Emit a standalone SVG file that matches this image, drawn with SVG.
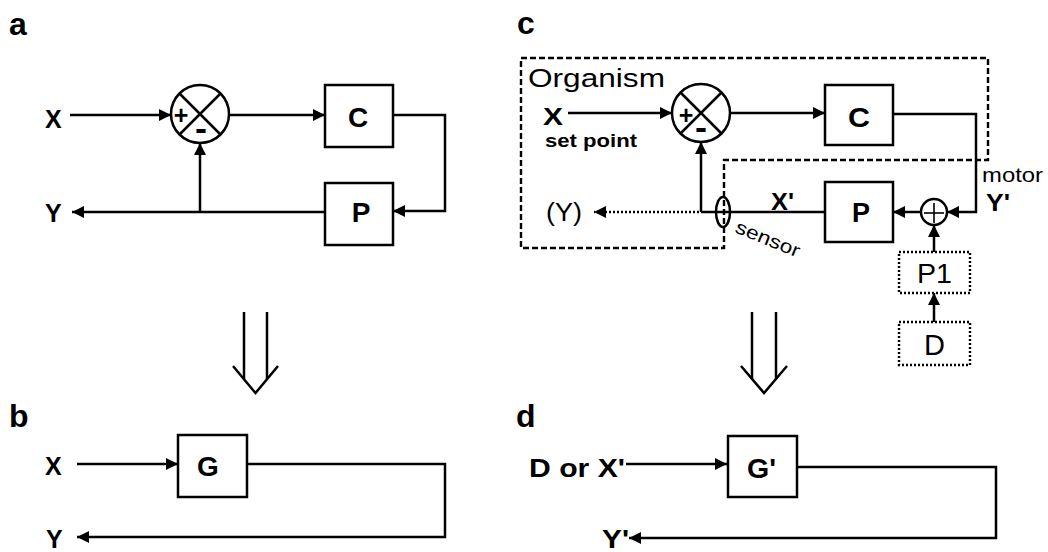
<svg xmlns="http://www.w3.org/2000/svg" width="1048" height="552" viewBox="0 0 1048 552">
<defs>
<marker id="ah" markerUnits="userSpaceOnUse" markerWidth="12" markerHeight="12" refX="12" refY="6" orient="auto">
<path d="M0,0 L12,6 L0,12 z" fill="#000"/>
</marker>
</defs>
<style>
text{font-family:"Liberation Sans",Arial,Helvetica,sans-serif;fill:#000}
.b{font-weight:bold}
.lbl{font-weight:bold;font-size:32px}
.box{fill:#fff;stroke:#000;stroke-width:2.5}
.dbox{fill:#fff;stroke:#000;stroke-width:2.4;stroke-dasharray:2,2}
.ln{fill:none;stroke:#000;stroke-width:2.5}
.arr{fill:none;stroke:#000;stroke-width:2.5;marker-end:url(#ah)}
.dot{fill:none;stroke:#000;stroke-width:2.5;stroke-dasharray:2,2;marker-end:url(#ah)}
.dash{fill:none;stroke:#000;stroke-width:2.4;stroke-dasharray:6,3}
.sum{fill:#fff;stroke:#000;stroke-width:2.5}
.thin{fill:none;stroke:#000;stroke-width:1.6}
</style>
<rect width="1048" height="552" fill="#fff"/>

<!-- panel labels -->
<text class="lbl" x="9" y="35">a</text>
<text class="lbl" x="517" y="34">c</text>
<text class="lbl" x="9" y="427">b</text>
<text class="lbl" x="516" y="427">d</text>

<!-- organism boundary -->
<path id="organism-boundary" class="dash" d="M521,58 H988 V160 H724 V248 H521 Z"/>

<g id="connectors">
<!-- panel a -->
<line class="arr" x1="70" y1="115" x2="171" y2="115"/>
<line class="arr" x1="230" y1="115" x2="325" y2="115"/>
<polyline class="arr" points="393,115 445,115 445,211 393,211"/>
<line class="arr" x1="325" y1="212" x2="72" y2="212"/>
<line class="arr" x1="200" y1="212" x2="200" y2="143"/>
<!-- panel c -->
<line class="arr" x1="568" y1="113" x2="672" y2="113"/>
<line class="arr" x1="730" y1="113" x2="825" y2="113"/>
<polyline class="arr" points="893,114 976,114 976,212 947,212"/>
<line class="arr" x1="921" y1="212" x2="893" y2="212"/>
<line class="ln" x1="825" y1="212" x2="701" y2="212"/>
<line class="arr" x1="701" y1="212" x2="701" y2="142"/>
<line class="dot" x1="699" y1="212" x2="594" y2="212"/>
<line class="arr" x1="934" y1="252" x2="934" y2="225"/>
<line class="arr" x1="934" y1="322" x2="934" y2="293"/>
<!-- panel b -->
<line class="arr" x1="77" y1="464" x2="178" y2="464"/>
<polyline class="arr" points="247,464 445,464 445,537 77,537"/>
<!-- panel d -->
<line class="arr" x1="626" y1="464" x2="727" y2="464"/>
<polyline class="arr" points="797,467 996,467 996,538 629,538"/>
</g>

<!-- transformation arrows -->
<g id="implies-left">
<line class="ln" x1="244" y1="312" x2="244" y2="379"/>
<line class="ln" x1="267" y1="312" x2="267" y2="379"/>
<polyline class="ln" points="233,366 255.5,393 278,366"/>
</g>
<g id="implies-right">
<line class="ln" x1="752" y1="312" x2="752" y2="379"/>
<line class="ln" x1="776" y1="312" x2="776" y2="379"/>
<polyline class="ln" points="741,366 764,393 787,366"/>
</g>

<!-- panel a nodes -->
<g id="a-X"><text class="b" x="45" y="128" font-size="25">X</text></g>
<g id="a-Y"><text class="b" x="45" y="222" font-size="25">Y</text></g>
<g id="a-sum">
<circle class="sum" cx="200" cy="114" r="29"/>
<line class="ln" x1="179.5" y1="93.5" x2="220.5" y2="134.5"/>
<line class="ln" x1="220.5" y1="93.5" x2="179.5" y2="134.5"/>
<text class="b" x="181" y="124" font-size="25" text-anchor="middle">+</text>
<text class="b" x="201" y="140" font-size="34" text-anchor="middle" textLength="12" lengthAdjust="spacingAndGlyphs">-</text>
</g>
<g id="a-C"><rect class="box" x="325" y="85" width="68" height="62"/><text class="b" x="358" y="127" font-size="28" text-anchor="middle">C</text></g>
<g id="a-P"><rect class="box" x="325" y="183" width="68" height="62"/><text class="b" x="361" y="222" font-size="28" text-anchor="middle">P</text></g>

<!-- panel c nodes -->
<g id="c-organism-label"><text x="528" y="87" font-size="25" textLength="137" lengthAdjust="spacingAndGlyphs">Organism</text></g>
<g id="c-X">
<text class="b" x="543" y="125" font-size="23" textLength="20" lengthAdjust="spacingAndGlyphs">X</text>
<text class="b" x="545" y="147" font-size="18" textLength="92" lengthAdjust="spacingAndGlyphs">set point</text>
</g>
<g id="c-sum">
<circle class="sum" cx="701" cy="113" r="29"/>
<line class="ln" x1="680.5" y1="92.5" x2="721.5" y2="133.5"/>
<line class="ln" x1="721.5" y1="92.5" x2="680.5" y2="133.5"/>
<text class="b" x="686" y="124" font-size="25" text-anchor="middle">+</text>
<text class="b" x="701" y="139" font-size="34" text-anchor="middle" textLength="12" lengthAdjust="spacingAndGlyphs">-</text>
</g>
<g id="c-C"><rect class="box" x="825" y="85" width="68" height="60"/><text class="b" x="859" y="127" font-size="27" text-anchor="middle" textLength="22" lengthAdjust="spacingAndGlyphs">C</text></g>
<g id="c-P"><rect class="box" x="825" y="182" width="68" height="60"/><text class="b" x="861" y="222" font-size="27" text-anchor="middle" textLength="18" lengthAdjust="spacingAndGlyphs">P</text></g>
<g id="c-plus">
<circle class="sum" cx="934" cy="212" r="13"/>
<line class="thin" x1="924" y1="213" x2="944" y2="213"/>
<line class="thin" x1="934" y1="203" x2="934" y2="223"/>
</g>
<g id="c-sensor">
<ellipse class="ln" cx="723" cy="212" rx="7" ry="15"/>
<text x="734" y="232" font-size="19" transform="rotate(22 734 232)" textLength="68" lengthAdjust="spacingAndGlyphs">sensor</text>
</g>
<g id="c-Xp"><text class="b" x="771" y="210" font-size="24" textLength="23" lengthAdjust="spacingAndGlyphs">X'</text></g>
<g id="c-Yout"><text x="546" y="221" font-size="26" textLength="36" lengthAdjust="spacingAndGlyphs">(Y)</text></g>
<g id="c-motor">
<text x="982" y="182" font-size="21" textLength="61" lengthAdjust="spacingAndGlyphs">motor</text>
<text class="b" x="986" y="211" font-size="24" textLength="24" lengthAdjust="spacingAndGlyphs">Y'</text>
</g>
<g id="c-P1"><rect class="dbox" x="899" y="252" width="71" height="41"/><text x="934.5" y="283" font-size="27" text-anchor="middle" textLength="35" lengthAdjust="spacingAndGlyphs">P1</text></g>
<g id="c-D"><rect class="dbox" x="899" y="322" width="71" height="43"/><text x="934.5" y="355" font-size="29" text-anchor="middle">D</text></g>

<!-- panel b nodes -->
<g id="b-X"><text class="b" x="45" y="475" font-size="25">X</text></g>
<g id="b-G"><rect class="box" x="178" y="435" width="69" height="62"/><text class="b" x="208" y="476" font-size="28" text-anchor="middle">G</text></g>
<g id="b-Y"><text class="b" x="46" y="548" font-size="25">Y</text></g>

<!-- panel d nodes -->
<g id="d-in"><text class="b" x="529" y="477" font-size="25" textLength="96" lengthAdjust="spacingAndGlyphs">D or X'</text></g>
<g id="d-G"><rect class="box" x="728" y="436" width="69" height="61"/><text class="b" x="747" y="478" font-size="27" textLength="29" lengthAdjust="spacingAndGlyphs">G'</text></g>
<g id="d-Y"><text class="b" x="602" y="548" font-size="25" textLength="27" lengthAdjust="spacingAndGlyphs">Y'</text></g>
</svg>
